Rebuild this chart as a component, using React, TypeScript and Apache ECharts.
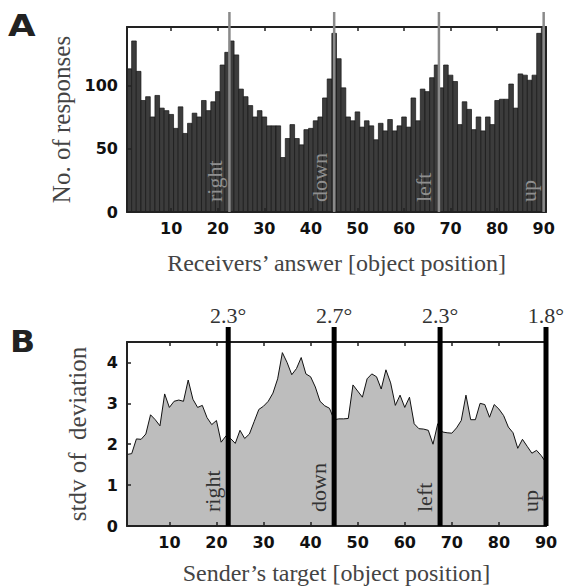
import React, { useEffect, useRef } from "react";
import * as echarts from "echarts";

// ---- data ----
const positions: number[] = Array.from({ length: 90 }, (_, i) => i + 1);
const responses: number[] = [
  113, 135, 111, 88, 91, 75, 92, 82, 80, 77, 66, 83, 62, 70, 78, 75, 88, 80, 87, 95, 116, 126, 135,
  124, 97, 91, 84, 75, 80, 75, 68, 68, 68, 43, 58, 69, 58, 53, 65, 66, 72, 75, 90, 105, 141,
  121, 98, 75, 72, 79, 67, 72, 68, 57, 70, 64, 73, 64, 68, 75, 67, 90, 72, 97, 95, 106, 116,
  98, 116, 108, 103, 69, 87, 81, 65, 75, 64, 75, 69, 88, 89, 89, 101, 82, 109, 108, 104, 108, 141, 145,
];
const stdvDeviation: number[] = [
  1.75, 1.77, 2.13, 2.12, 2.25, 2.72, 2.6, 2.45, 3.23, 2.9, 3.05, 3.08, 3.05, 3.57, 3.1, 2.9, 2.95, 2.65, 2.48, 2.58, 2.05, 2.2,
  2.14, 2.02, 2.34, 2.14, 2.25, 2.55, 2.85, 2.93, 3.05, 3.25, 3.6, 4.24, 4.0, 3.7, 3.85, 4.12, 3.72, 3.65, 3.4, 3.05, 2.94, 2.88, 2.6,
  2.62, 2.62, 2.63, 3.45, 3.3, 3.15, 3.6, 3.72, 3.65, 3.35, 3.82, 3.5, 2.95, 3.2, 2.9, 3.15, 2.5, 2.38, 2.37, 2.34, 2.0, 2.5,
  2.3, 2.28, 2.27, 2.4, 2.58, 3.2, 2.6, 2.6, 3.0, 2.97, 2.66, 2.97, 2.86, 2.7, 2.42, 2.28, 1.9, 2.12, 1.95, 1.78, 1.85, 1.72, 1.55,
];
const directionPositions: number[] = [22.5, 45, 67.5, 90];
const directionNames: string[] = ["right", "down", "left", "up"];
const spreadLabels: string[] = ["2.3°", "2.7°", "2.3°", "1.8°"];
const xTickValues: number[] = [10, 20, 30, 40, 50, 60, 70, 80, 90];
const yTicksA: number[] = [0, 50, 100];
const yTicksB: number[] = [0, 1, 2, 3, 4];

const SERIF = '"Liberation Serif", "DejaVu Serif", serif';
const SANS = '"DejaVu Sans", sans-serif';

const tickLabel = { fontFamily: SANS, fontWeight: "bold" as const, fontSize: 16, color: "#111" };
const frameLine = { show: true, onZero: false, lineStyle: { color: "#222", width: 2 } };

export default function App() {
  const ref = useRef<HTMLDivElement>(null);
  useEffect(() => {
    if (!ref.current) return;
    const chart = echarts.init(ref.current, undefined, { renderer: "svg" });

    const bottomX = (gridIndex: number, min: number, max: number, name: string, gap: number) => ({
      type: "value",
      gridIndex,
      min,
      max,
      position: "bottom",
      z: 5,
      axisLine: frameLine,
      axisTick: { show: true, inside: true, length: 4, customValues: xTickValues, lineStyle: { color: "#222", width: 1.5 } },
      axisLabel: { ...tickLabel, margin: 8, customValues: xTickValues },
      splitLine: { show: false },
      name,
      nameLocation: "middle",
      nameGap: gap,
      nameTextStyle: { fontFamily: SERIF, fontSize: 24, color: "#444" },
    });
    const topX = (gridIndex: number, min: number, max: number) => ({
      type: "value",
      gridIndex,
      min,
      max,
      position: "top",
      z: 5,
      axisLine: frameLine,
      axisTick: { show: true, inside: true, length: 4, customValues: xTickValues, lineStyle: { color: "#222", width: 1.5 } },
      axisLabel: { show: false, customValues: xTickValues },
      splitLine: { show: false },
    });
    const leftY = (gridIndex: number, max: number, ticks: number[], name: string, gap: number) => ({
      type: "value",
      gridIndex,
      min: 0,
      max,
      position: "left",
      z: 5,
      axisLine: frameLine,
      axisTick: { show: true, inside: true, length: 4, customValues: ticks, lineStyle: { color: "#222", width: 1.5 } },
      axisLabel: { ...tickLabel, margin: 9, customValues: ticks },
      splitLine: { show: false },
      name,
      nameLocation: "middle",
      nameGap: gap,
      nameTextStyle: { fontFamily: SERIF, fontSize: 25, color: "#444" },
    });
    const rightY = (gridIndex: number, max: number) => ({
      type: "value",
      gridIndex,
      min: 0,
      max,
      position: "right",
      z: 5,
      axisLine: frameLine,
      axisTick: { show: false },
      axisLabel: { show: false },
      splitLine: { show: false },
    });

    const dirRender = (panel: "A" | "B") => (params: any, api: any) => {
      const x = api.value(0);
      const idx = api.value(1);
      const p0 = api.coord([x, 0]);
      const topY = params.coordSys.y - 15;
      const children: any[] = [
        {
          type: "line",
          shape: { x1: p0[0], y1: p0[1], x2: p0[0], y2: topY },
          style: { stroke: panel === "A" ? "#8a8a8a" : "#000", lineWidth: panel === "A" ? 2.5 : 5 },
        },
        {
          type: "text",
          x: p0[0] - (panel === "A" ? 4 : 5),
          y: p0[1] - (panel === "A" ? 10 : 14),
          rotation: Math.PI / 2,
          style: {
            text: directionNames[idx],
            font: `22px ${SERIF}`,
            fill: panel === "A" ? "#8f8f8f" : "#333",
            align: "left",
            verticalAlign: "bottom",
          },
        },
      ];
      if (panel === "B") {
        children.push({
          type: "text",
          x: p0[0],
          y: topY - 1,
          style: {
            text: spreadLabels[idx],
            font: `22px ${SERIF}`,
            fill: "#333",
            align: "center",
            verticalAlign: "bottom",
          },
        });
      }
      return { type: "group", children };
    };

    const option: any = {
      animation: false,
      backgroundColor: "#fff",
      grid: [
        { left: 127, top: 27, width: 419, height: 185 },
        { left: 127, top: 342, width: 419, height: 184 },
      ],
      xAxis: [
        bottomX(0, 0.5, 90.5, "Receivers’ answer [object position]", 39),
        topX(0, 0.5, 90.5),
        bottomX(1, 1, 90, "Sender’s target [object position]", 35),
        topX(1, 1, 90),
      ],
      yAxis: [
        leftY(0, 146, yTicksA, "No. of responses", 47),
        rightY(0, 146),
        leftY(1, 4.5, yTicksB, "stdv of  deviation", 37),
        rightY(1, 4.5),
      ],
      graphic: [
        { type: "text", left: 8, top: 10, scaleX: 1.15, style: { text: "A", font: `bold 31px ${SANS}`, fill: "#222" } },
        { type: "text", left: 10, top: 327, scaleX: 1.1, style: { text: "B", font: `bold 30px ${SANS}`, fill: "#222" } },
      ],
      series: [
        {
          type: "custom",
          xAxisIndex: 0,
          yAxisIndex: 0,
          z: 2,
          data: positions.map((p, i) => [p, responses[i]]),
          encode: { x: 0, y: 1 },
          renderItem: (params: any, api: any) => {
            const x = api.value(0);
            const y = api.value(1);
            const p1 = api.coord([x - 0.5, y]);
            const p2 = api.coord([x + 0.5, 0]);
            return {
              type: "rect",
              shape: { x: p1[0], y: p1[1], width: p2[0] - p1[0], height: p2[1] - p1[1] },
              style: { fill: "#3c3c3c", stroke: "#161616", lineWidth: 0.7 },
            };
          },
        },
        {
          type: "custom",
          xAxisIndex: 0,
          yAxisIndex: 0,
          z: 6,
          clip: false,
          data: directionPositions.map((d, i) => [d, i]),
          encode: { x: 0 },
          renderItem: dirRender("A"),
        },
        {
          type: "line",
          xAxisIndex: 2,
          yAxisIndex: 2,
          z: 2,
          symbol: "none",
          data: positions.map((p, i) => [p, stdvDeviation[i]]),
          lineStyle: { color: "#111", width: 1 },
          areaStyle: { color: "#bdbdbd", opacity: 1 },
        },
        {
          type: "custom",
          xAxisIndex: 2,
          yAxisIndex: 2,
          z: 6,
          clip: false,
          data: directionPositions.map((d, i) => [d, i]),
          encode: { x: 0 },
          renderItem: dirRender("B"),
        },
      ],
    };
    chart.setOption(option);
    return () => chart.dispose();
  }, []);
  return (
    <div
      ref={ref}
      style={{ position: "absolute", left: 0, top: 0, width: 567, height: 588, background: "#fff" }}
    />
  );
}
